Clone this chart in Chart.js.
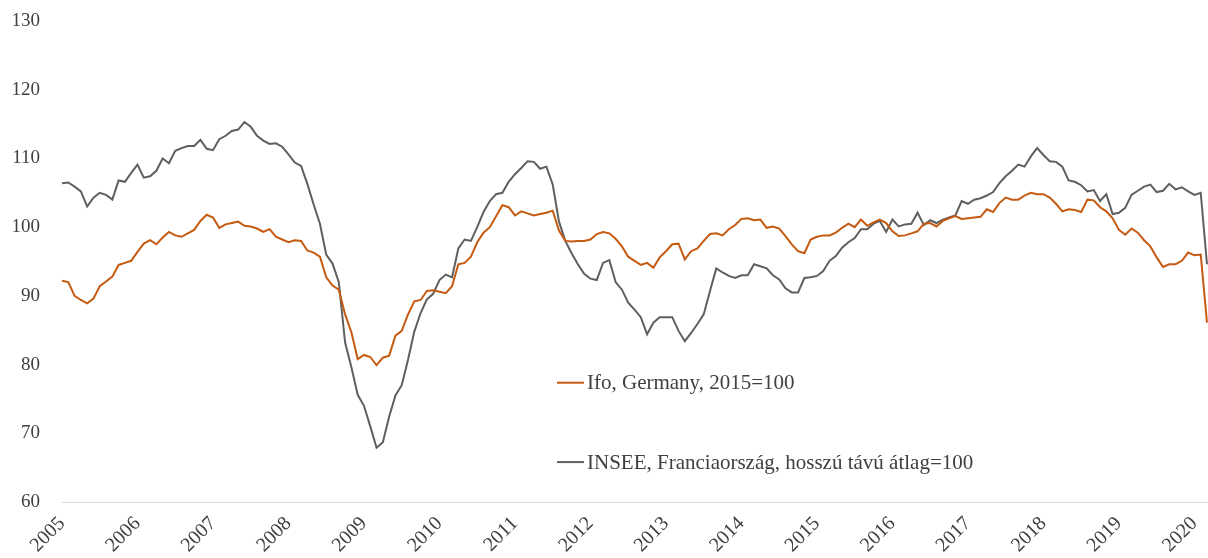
<!DOCTYPE html>
<html><head><meta charset="utf-8">
<script src="https://cdn.jsdelivr.net/npm/chart.js@4.4.0/dist/chart.umd.min.js"></script>
<style>html,body{margin:0;padding:0;background:#fff;}#wrap{width:1208px;height:558px;position:relative;}</style>
</head><body><div id="wrap"><canvas id="c"></canvas></div>
<script>
const startYear = 2005;
const seriesLabels = ["Ifo, Germany, 2015=100", "INSEE, Franciaország, hosszú távú átlag=100"];
const ifo = [
92.2,92.0,90.0,89.4,88.9,89.6,91.4,92.1,92.8,94.5,
94.8,95.1,96.4,97.6,98.1,97.5,98.5,99.3,98.8,98.6,
99.1,99.6,100.9,101.8,101.4,99.9,100.4,100.6,100.8,100.2,
100.1,99.8,99.3,99.7,98.6,98.2,97.8,98.1,98.0,96.6,
96.3,95.7,92.7,91.5,90.9,87.3,84.7,80.8,81.4,81.1,
79.9,81.0,81.3,84.2,84.9,87.3,89.2,89.4,90.7,90.8,
90.6,90.4,91.4,94.6,94.8,95.7,97.8,99.2,100.0,101.6,
103.2,102.9,101.7,102.3,102.0,101.7,101.9,102.1,102.4,99.5,
98.0,97.9,98.0,98.0,98.2,99.0,99.3,99.1,98.3,97.2,
95.7,95.1,94.5,94.8,94.1,95.6,96.5,97.5,97.6,95.3,
96.5,96.9,98.0,99.0,99.1,98.8,99.7,100.3,101.2,101.3,
101.0,101.1,99.9,100.1,99.8,98.7,97.5,96.5,96.2,98.2,
98.6,98.8,98.8,99.2,99.9,100.5,100.0,101.1,100.2,100.7,
101.1,100.6,99.4,98.7,98.8,99.1,99.4,100.5,100.6,100.1,
100.9,101.3,101.6,101.2,101.3,101.4,101.5,102.6,102.2,103.5,
104.3,104.0,104.0,104.6,105.0,104.8,104.8,104.3,103.4,102.3,
102.6,102.5,102.2,104.0,103.9,102.9,102.3,101.3,99.6,98.9,
99.8,99.2,98.1,97.2,95.6,94.2,94.6,94.6,95.1,96.3,
95.9,96.0,86.1];
const insee = [
106.4,106.5,105.9,105.2,103.0,104.3,105.0,104.7,104.0,106.8,
106.6,107.9,109.1,107.2,107.4,108.2,110.0,109.3,111.1,111.5,
111.8,111.8,112.7,111.4,111.2,112.8,113.3,114.0,114.2,115.3,
114.6,113.3,112.6,112.1,112.2,111.7,110.6,109.4,108.9,106.3,
103.3,100.5,96.0,94.7,92.0,83.2,79.6,75.6,74.0,71.0,
67.9,68.7,72.4,75.5,77.0,80.7,84.8,87.5,89.5,90.3,
92.3,93.1,92.7,96.9,98.2,98.0,100.0,102.2,103.8,104.8,
105.0,106.6,107.7,108.6,109.6,109.5,108.5,108.8,106.2,100.8,
98.0,96.2,94.6,93.2,92.5,92.3,94.8,95.2,92.0,90.9,
89.0,88.0,86.9,84.4,86.1,86.9,86.9,86.9,84.9,83.4,
84.6,85.9,87.3,90.7,94.0,93.4,92.9,92.6,93.0,93.0,
94.6,94.3,94.0,93.0,92.4,91.1,90.5,90.5,92.6,92.7,
92.9,93.6,95.1,95.8,97.0,97.8,98.4,99.7,99.7,100.5,
100.9,99.3,101.1,100.1,100.4,100.5,102.1,100.3,101.0,100.6,
101.1,101.4,101.7,103.8,103.4,104.0,104.2,104.6,105.1,106.4,
107.4,108.2,109.1,108.8,110.3,111.5,110.5,109.6,109.5,108.8,
106.8,106.6,106.1,105.2,105.4,103.8,104.8,101.9,102.1,102.8,
104.7,105.3,105.9,106.2,105.1,105.3,106.3,105.5,105.8,105.2,
104.7,105.0,94.6];
const yTicks = [60,70,80,90,100,110,120,130];

const months = [];
for (let i = 0; i < ifo.length; i++) {
  const y = startYear + Math.floor(i / 12), m = (i % 12) + 1;
  months.push(y + '-' + String(m).padStart(2, '0'));
}
const colors = ['#C55A11', '#5F5F5F'];
const FONT = "'Liberation Serif', 'DejaVu Serif', serif";
const TEXT = '#404040';

const legendPlugin = {
  id: 'innerLegend',
  afterDraw(chart) {
    const ctx = chart.ctx, a = chart.chartArea;
    const rows = [0.752, 0.917];
    chart.data.datasets.forEach((ds, i) => {
      const x0 = a.left + a.width * 0.4323;
      const y = a.top + a.height * rows[i];
      ctx.save();
      ctx.strokeStyle = ds.borderColor; ctx.lineWidth = 2;
      ctx.beginPath(); ctx.moveTo(x0, y); ctx.lineTo(x0 + 27, y); ctx.stroke();
      ctx.fillStyle = TEXT; ctx.font = "21px " + FONT;
      ctx.textBaseline = 'middle'; ctx.textAlign = 'left';
      ctx.fillText(ds.label, x0 + 30, y + 1);
      ctx.restore();
    });
  }
};

new Chart(document.getElementById('c'), {
  type: 'line',
  data: {
    labels: months,
    datasets: [
      { label: seriesLabels[0], data: ifo, borderColor: colors[0], borderWidth: 2, pointRadius: 0, tension: 0, fill: false },
      { label: seriesLabels[1], data: insee, borderColor: colors[1], borderWidth: 2, pointRadius: 0, tension: 0, fill: false }
    ]
  },
  options: {
    responsive: true, maintainAspectRatio: false, animation: false,
    layout: { padding: { left: 0, right: 1, top: 21, bottom: 0 } },
    plugins: { legend: { display: false }, tooltip: { enabled: false } },
    scales: {
      x: {
        type: 'category', offset: false,
        grid: { display: false, drawTicks: false },
        border: { display: true, color: '#D9D9D9', width: 1 },
        ticks: {
          autoSkip: false, maxRotation: 45, minRotation: 45, padding: 10,
          color: TEXT, font: { family: FONT, size: 20 },
          callback: (v, i) => (i % 12 === 0 ? String(startYear + i / 12) : null)
        },
        afterFit: s => { s.height = 56; s.paddingLeft = 0; s.paddingRight = 0; }
      },
      y: {
        min: yTicks[0], max: yTicks[yTicks.length - 1],
        grid: { display: false, drawTicks: false },
        border: { display: false },
        afterBuildTicks: s => { s.ticks = yTicks.map(v => ({ value: v })); },
        ticks: { color: TEXT, font: { family: FONT, size: 19 }, padding: 22 },
        afterFit: s => { s.width = 62; s.paddingTop = 0; s.paddingBottom = 0; }
      }
    }
  },
  plugins: [legendPlugin]
});
</script></body></html>
